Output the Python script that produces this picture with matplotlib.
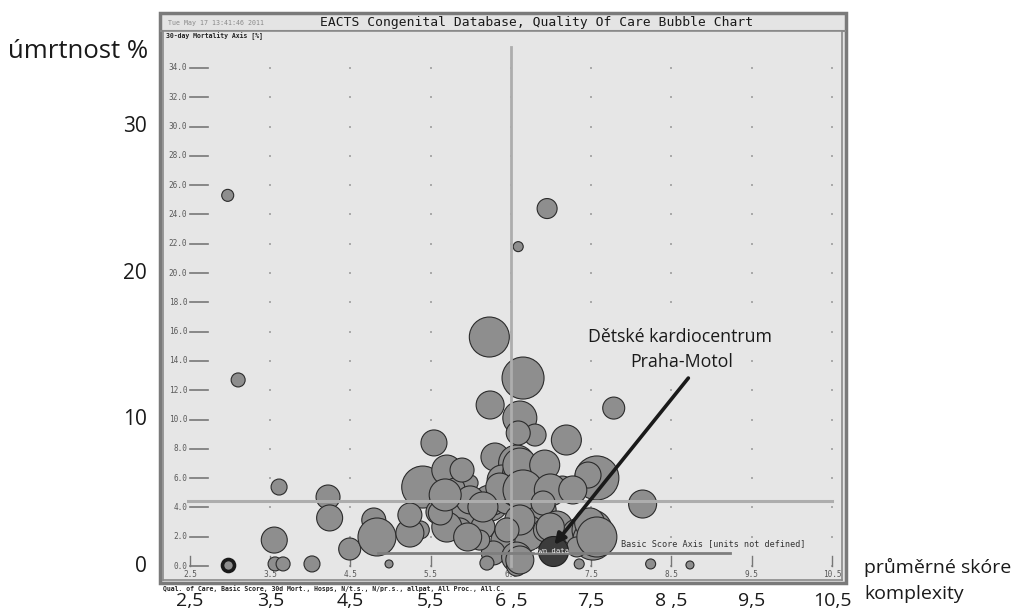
import numpy as np
import matplotlib
matplotlib.use("Agg")
import matplotlib.pyplot as plt
from matplotlib.patches import Rectangle
from matplotlib.lines import Line2D
import matplotlib.transforms as mtransforms

# ---- data -------------------------------------------------------------
# basic score (complexity), 30-day mortality %, number of procedures
score = [2.97, 3.10, 3.61, 3.55, 3.56, 3.66, 4.02, 4.22, 4.24, 4.49,
         4.79, 4.83, 4.98, 6.23, 6.65, 6.24, 6.61, 7.78, 5.54, 6.80,
         7.19, 6.30, 7.57, 7.46, 8.14, 5.37, 7.35, 8.24, 8.73, 6.59,
         6.95, 5.40, 5.70, 5.99, 5.80, 5.59, 5.64, 5.90, 6.24, 6.28,
         6.15, 6.30, 6.57, 6.59, 6.39, 6.57, 6.90, 7.14, 6.45, 6.59,
         6.80, 6.90, 6.52, 6.70, 6.40, 7.07, 7.32, 7.51, 7.52, 7.32,
         6.28, 6.57, 6.20, 6.57, 6.11, 5.24, 5.99, 5.86, 6.86, 6.93,
         6.61, 6.92, 6.36, 6.65, 6.99, 7.27, 6.15, 6.90, 6.61, 6.45,
         6.99, 7.48, 7.57, 5.70, 5.96, 6.61, 5.62, 5.68, 5.24, 5.89]
mortality = [25.3, 12.7, 5.39, 1.77, 0.14, 0.14, 0.14, 4.71, 3.28, 1.16,
             3.14, 1.98, 0.14, 15.63, 12.83, 10.99, 10.10, 10.78, 8.40, 8.94,
             8.60, 7.71, 6.01, 6.21, 4.23, 2.46, 0.14, 0.14, 0.07, 21.8,
             24.4, 5.39, 6.55, 5.67, 5.32, 3.69, 3.00, 3.62, 4.30, 4.30,
             2.66, 7.44, 7.03, 9.08, 5.87, 6.35, 5.19, 5.32, 4.51, 5.39,
             4.51, 3.82, 2.46, 2.25, 1.77, 2.66, 2.25, 2.46, 1.77, 1.30,
             0.89, 0.61, 0.20, 0.00, 1.77, 2.25, 4.51, 2.46, 6.55, 2.46,
             6.89, 6.89, 5.39, 5.19, 5.19, 5.19, 4.03, 4.30, 3.14, 2.46,
             2.66, 2.94, 1.98, 2.66, 1.98, 0.41, 3.62, 4.85, 3.48, 6.55]
procedures = [144, 196, 256, 676, 196, 196, 256, 576, 676, 484,
              576, 1444, 64, 1600, 1764, 784, 1156, 484, 676, 484,
              900, 256, 1936, 676, 784, 324, 100, 100, 64, 100,
              400, 1764, 900, 256, 400, 576, 256, 900, 1296, 576,
              576, 784, 1296, 576, 900, 784, 1024, 576, 784, 1600,
              784, 676, 784, 1296, 576, 1024, 784, 1600, 1600, 400,
              576, 900, 196, 400, 400, 784, 784, 576, 784, 576,
              1156, 900, 784, 1600, 1024, 784, 900, 576, 900, 576,
              784, 900, 1600, 900, 784, 784, 576, 1024, 576, 576]

# a centre with zero mortality drawn with a heavy ring
ring_score, ring_mortality, ring_procedures = 2.97, 0.07, 144

# own centre
own_score, own_mortality, own_procedures = 7.02, 1.02, 900

# reference lines (mean score, mean mortality)
mean_score = 6.5
mean_mortality = 4.44
basic_axis_level = 0.89
basic_axis_span = (4.84, 9.23)

y_ticks = [0, 2, 4, 6, 8, 10, 12, 14, 16, 18, 20, 22, 24, 26, 28, 30, 32, 34]
x_ticks = [2.5, 3.5, 4.5, 5.5, 6.5, 7.5, 8.5, 9.5, 10.5]
outer_y_ticks = [0, 10, 20, 30]
outer_x_labels = ["2,5", "3,5", "4,5", "5,5", "6 ,5", "7,5", "8 ,5", "9,5", "10,5"]

# ---- figure -----------------------------------------------------------
W, H = 1020, 613
fig = plt.figure(figsize=(W / 100, H / 100), dpi=100, facecolor="white")


def fx(px):
    return px / W


def fy(py):
    return 1 - py / H


# outer panel frame and header band
fig.patches.append(Rectangle((fx(160), fy(583)), fx(846) - fx(160), fy(13) - fy(583),
                             transform=fig.transFigure, facecolor="#e4e4e4",
                             edgecolor="#7a7a7a", linewidth=2.5, zorder=-5))
fig.lines.append(Line2D([fx(161), fx(845)], [fy(31), fy(31)], transform=fig.transFigure,
                        color="#8a8a8a", linewidth=1.5, zorder=-4))

mono = "DejaVu Sans Mono"
fig.text(fx(168), fy(22.5), "Tue May 17 13:41:46 2011", fontsize=4.8, family=mono,
         color="#8a8a8a", va="center", ha="left")
fig.text(fx(537), fy(22.5), "EACTS Congenital Database, Quality Of Care Bubble Chart",
         fontsize=9.4, family=mono, color="#1a1a1a", va="center", ha="center")

# plotting area
ax = fig.add_axes([fx(163), fy(580), fx(842) - fx(163), fy(31) - fy(580)])
ax.set_zorder(2)
ax.set_xlim(2.1636, 10.6246)
ax.set_ylim(-0.9556, 36.519)
ax.set_facecolor("#e6e6e6")
ax.set_xticks([])
ax.set_yticks([])
for side in ax.spines.values():
    side.set_color("#8a8a8a")
    side.set_linewidth(1.2)

ax.text(0.004, 0.997, "30-day Mortality Axis [%]", transform=ax.transAxes, fontsize=4.7,
        family=mono, fontweight="bold", color="#222222", va="top", ha="left")

# y ticks with grid dots
tick_len = 0.22
for v in y_ticks:
    ax.plot([2.5, 2.5 + tick_len], [v, v], color="#777777", lw=1.2, zorder=1)
    ax.annotate(f"{v:.1f}", (2.5, v), xytext=(-2, 0), textcoords="offset points",
                fontsize=5.6, family=mono, color="#5a5a5a", ha="right", va="center")
    ax.scatter(x_ticks[1:], [v] * (len(x_ticks) - 1), s=0.6, color="#aaaaaa",
               marker="s", linewidths=0, zorder=1)

# x ticks
for v in x_ticks:
    ax.plot([v, v], [0, 0.7], color="#777777", lw=1.0, zorder=1)
    ax.annotate(f"{v:g}", (v, 0), xytext=(0, -3), textcoords="offset points",
                fontsize=5.6, family=mono, color="#5a5a5a", ha="center", va="top")

# bubbles
size_scale = 0.5184
ax.scatter(score, mortality, s=np.array(procedures) * size_scale, facecolor="#8e8e8e",
           edgecolor="#2b2b2b", linewidth=0.8, zorder=3)
ax.scatter([ring_score], [ring_mortality], s=ring_procedures * size_scale,
           facecolor="#8e8e8e", edgecolor="#1a1a1a", linewidth=2.6, zorder=3)

# mean lines
ax.plot([mean_score, mean_score], [0, 35.4], color="#adadad", lw=2.0, zorder=4)
ax.plot([2.47, 10.5], [mean_mortality, mean_mortality], color="#adadad", lw=2.2, zorder=4)

# own centre
ax.scatter([own_score], [own_mortality], s=own_procedures * size_scale, facecolor="#3c3c3c",
           edgecolor="#1e1e1e", linewidth=0.8, zorder=5)
ax.plot(list(basic_axis_span), [basic_axis_level] * 2, color="#7e7e7e", lw=2.0, zorder=6)
ax.text(own_score - 0.02, own_mortality, "own data", fontsize=5.2, family=mono,
        color="#f0f0f0", ha="center", va="center", zorder=7)
ax.text(7.87, 1.23, "Basic Score Axis [units not defined]", fontsize=6.1, family=mono,
        color="#333333", ha="left", va="bottom", zorder=7)

# caption below the panel
fig.text(fx(163), fy(588.5), "Qual. of Care, Basic Score, 30d Mort., Hosps, N/t.s., N/pr.s., allpat, All Proc., All.C.",
         fontsize=4.7, family=mono, fontweight="bold", color="#222222", va="center", ha="left")

# annotation of the own centre
label_font = "Open Sans"
ax.text(8.60, 15.6, "Dětské kardiocentrum", fontsize=12.8, family=label_font,
        color="#1a1a1a", ha="center", va="center", zorder=8)
ax.text(8.63, 13.9, "Praha-Motol", fontsize=12.8, family=label_font,
        color="#1a1a1a", ha="center", va="center", zorder=8)
ax.annotate("", xy=(7.04, 1.45), xytext=(8.71, 12.83),
            arrowprops=dict(arrowstyle="-|>", color="#1a1a1a", lw=2.6,
                            mutation_scale=16, shrinkA=0, shrinkB=0), zorder=8)

# outer axis labels
ty = mtransforms.blended_transform_factory(fig.transFigure, ax.transData)
for v in outer_y_ticks:
    fig.text(fx(147), v, str(v), transform=ty, fontsize=15, family=label_font,
             color="#1a1a1a", ha="right", va="center")
tx = mtransforms.blended_transform_factory(ax.transData, fig.transFigure)
for v, lab in zip(x_ticks, outer_x_labels):
    fig.text(v, fy(601), lab, transform=tx, fontsize=14, family=label_font,
             color="#1a1a1a", ha="center", va="center")

fig.text(fx(8), fy(52), "úmrtnost %", fontsize=18.5, family=label_font,
         color="#1a1a1a", ha="left", va="center")
fig.text(fx(864), fy(567), "průměrné skóre", fontsize=14, family=label_font,
         color="#1a1a1a", ha="left", va="center")
fig.text(fx(864), fy(594), "komplexity", fontsize=14, family=label_font,
         color="#1a1a1a", ha="left", va="center")

fig.savefig("out.png", dpi=100, facecolor="white")
